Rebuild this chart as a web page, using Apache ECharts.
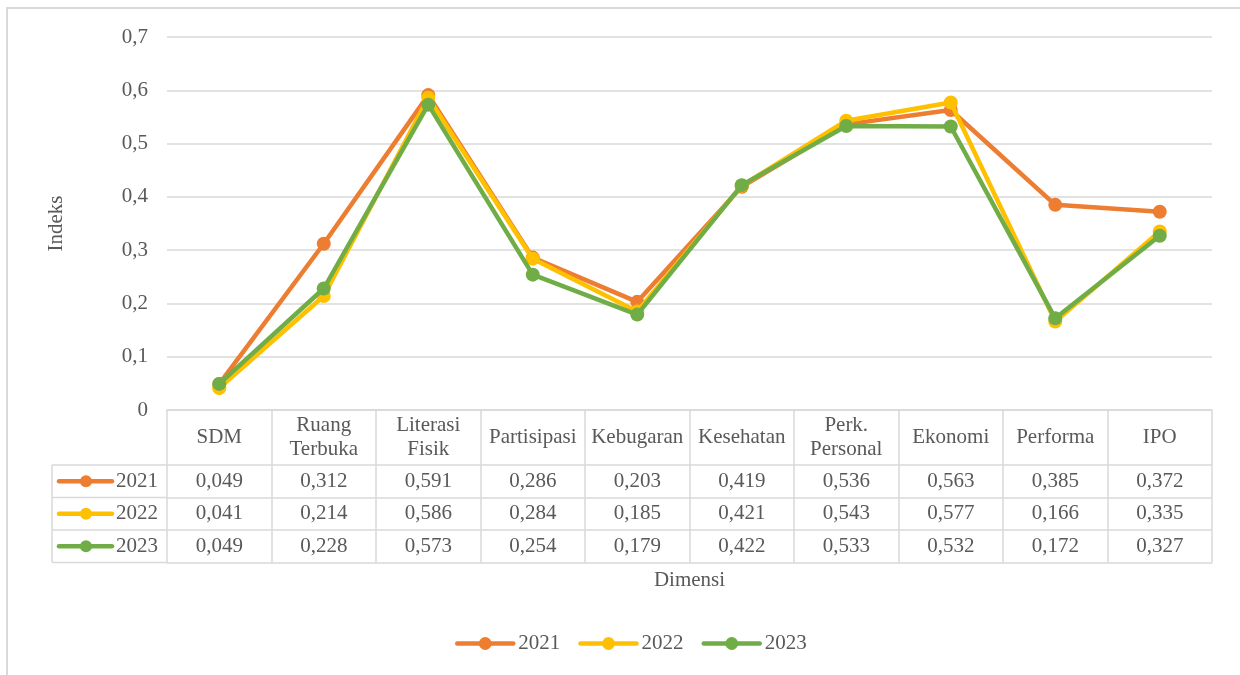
<!DOCTYPE html>
<html>
<head>
<meta charset="utf-8">
<script src="https://cdn.jsdelivr.net/npm/echarts@6/dist/echarts.min.js"></script>
<style>
  html, body { margin: 0; padding: 0; background: #fff; }
  #main { width: 1240px; height: 675px; }
</style>
</head>
<body>
<div id="main"></div>
<script>
// data
var categories = ['SDM', 'Ruang\nTerbuka', 'Literasi\nFisik', 'Partisipasi', 'Kebugaran',
                  'Kesehatan', 'Perk.\nPersonal', 'Ekonomi', 'Performa', 'IPO'];
var years = ['2021', '2022', '2023'];
var v2021 = [0.049, 0.312, 0.591, 0.286, 0.203, 0.419, 0.536, 0.563, 0.385, 0.372];
var v2022 = [0.041, 0.214, 0.586, 0.284, 0.185, 0.421, 0.543, 0.577, 0.166, 0.335];
var v2023 = [0.049, 0.228, 0.573, 0.254, 0.179, 0.422, 0.533, 0.532, 0.172, 0.327];
var yTicks = [0, 0.1, 0.2, 0.3, 0.4, 0.5, 0.6, 0.7];

var seriesValues = [v2021, v2022, v2023];
var colors = ['#ED7D31', '#FFC000', '#70AD47'];
var FONT = '"Liberation Serif", "Times New Roman", serif';
var TXT = '#595959';
var LINE = '#d9d9d9';

// layout of plot + data table
var gridLeft = 167, gridRight = 28, gridTop = 37, plotBottom = 410;
var headerH = 55, rowH = 32.5;
var tableLeft = 52;
var tableBottom = plotBottom + headerH + rowH * 3;

function fmt(v) {
    return v === 0 ? '0' : String(v).replace('.', ',');
}
function fmt3(v) {
    return v.toFixed(3).replace('.', ',');
}

var myChart = echarts.init(document.getElementById('main'));

var xAxes = [{
    type: 'category',
    data: categories,
    position: 'bottom',
    boundaryGap: true,
    name: 'Dimensi',
    nameLocation: 'middle',
    nameGap: 160,
    nameTextStyle: { fontFamily: FONT, fontSize: 21, color: TXT },
    axisLine: { show: true, lineStyle: { color: LINE, width: 1.5 } },
    axisTick: { show: true, interval: 0, length: tableBottom - plotBottom, lineStyle: { color: LINE, width: 1.5 } },
    axisLabel: {
        interval: 0, margin: headerH / 2, verticalAlign: 'middle', lineHeight: 24,
        fontFamily: FONT, fontSize: 21, color: TXT
    },
    splitLine: { show: false }
}];
years.forEach(function (y, i) {
    xAxes.push({
        type: 'category',
        data: seriesValues[i].map(fmt3),
        position: 'bottom',
        offset: headerH + rowH * i,
        axisLine: { show: true, lineStyle: { color: LINE, width: 1.5 } },
        axisTick: { show: false },
        axisLabel: {
            interval: 0, margin: rowH / 2, verticalAlign: 'middle',
            fontFamily: FONT, fontSize: 21, color: TXT
        },
        splitLine: { show: false }
    });
});
xAxes.push({
    type: 'category',
    data: categories,
    position: 'bottom',
    offset: tableBottom - plotBottom,
    axisLine: { show: true, lineStyle: { color: LINE, width: 1.5 } },
    axisTick: { show: false },
    axisLabel: { show: false }
});

// table left column (series keys) + outer frame
var graphics = [{
    type: 'rect',
    shape: { x: 7, y: 8, width: 1400, height: 800 },
    style: { fill: null, stroke: LINE, lineWidth: 2 },
    silent: true
}, {
    type: 'line',
    shape: { x1: tableLeft, y1: plotBottom + headerH, x2: tableLeft, y2: tableBottom },
    style: { stroke: LINE, lineWidth: 1.5 }
}];
for (var r = 0; r <= 3; r++) {
    var yy = plotBottom + headerH + rowH * r;
    graphics.push({
        type: 'line',
        shape: { x1: tableLeft, y1: yy, x2: gridLeft, y2: yy },
        style: { stroke: LINE, lineWidth: 1.5 }
    });
}
years.forEach(function (y, i) {
    var cy = plotBottom + headerH + rowH * i + rowH / 2;
    graphics.push({
        type: 'line',
        shape: { x1: 59, y1: cy, x2: 112, y2: cy },
        style: { stroke: colors[i], lineWidth: 4.5, lineCap: 'round' }
    }, {
        type: 'circle',
        shape: { cx: 86, cy: cy, r: 6 },
        style: { fill: colors[i] }
    }, {
        type: 'text',
        x: 116, y: cy,
        style: { text: y, font: '21px ' + FONT, fill: TXT, verticalAlign: 'middle', align: 'left' }
    });
});

var option = {
    animation: false,
    backgroundColor: '#fff',
    grid: { left: gridLeft, right: gridRight, top: gridTop, bottom: 675 - plotBottom, containLabel: false },
    legend: {
        data: years,
        left: 450,
        top: 628,
        itemWidth: 56,
        itemHeight: 16,
        itemGap: 18,
        lineStyle: { width: 4.5, cap: 'round' },
        textStyle: { fontFamily: FONT, fontSize: 21, color: TXT }
    },
    xAxis: xAxes,
    yAxis: {
        type: 'value',
        min: yTicks[0],
        max: yTicks[yTicks.length - 1],
        interval: 0.1,
        name: 'Indeks',
        nameLocation: 'middle',
        nameGap: 100,
        nameTextStyle: { fontFamily: FONT, fontSize: 21, color: TXT },
        axisLine: { show: false },
        axisTick: { show: false },
        axisLabel: { margin: 19, fontFamily: FONT, fontSize: 21, color: TXT, formatter: fmt },
        splitLine: { lineStyle: { color: LINE, width: 1.5 } }
    },
    series: years.map(function (y, i) {
        return {
            name: y,
            type: 'line',
            xAxisIndex: 0,
            data: seriesValues[i],
            symbol: 'circle',
            symbolSize: 14,
            color: colors[i],
            lineStyle: { width: 4.5, color: colors[i] },
            itemStyle: { color: colors[i] },
            z: 3 + i
        };
    }),
    graphic: graphics
};

myChart.setOption(option);
</script>
</body>
</html>
